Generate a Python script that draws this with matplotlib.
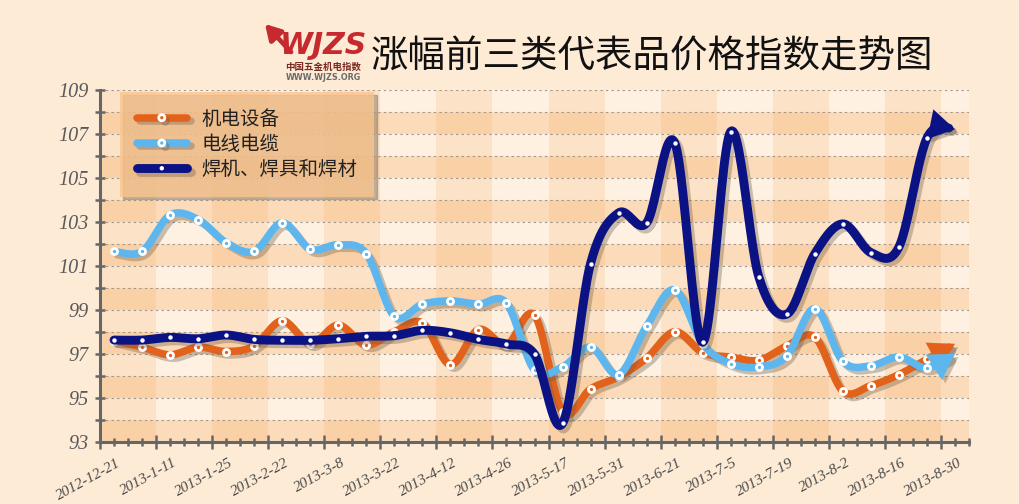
import numpy as np
import matplotlib
matplotlib.use("Agg")
import matplotlib.pyplot as plt
import matplotlib.patheffects as pe
import matplotlib.transforms as mtransforms
from matplotlib.lines import Line2D
from matplotlib.patches import FancyArrowPatch

cjk = ['Noto Sans CJK SC', 'DejaVu Sans']

# --- data ---
tick_labels = ['2012-12-21', '2013-1-11', '2013-1-25', '2013-2-22', '2013-3-8', '2013-3-22',
               '2013-4-12', '2013-4-26', '2013-5-17', '2013-5-31', '2013-6-21', '2013-7-5',
               '2013-7-19', '2013-8-2', '2013-8-16', '2013-8-30']
names = ['机电设备', '电线电缆', '焊机、焊具和焊材']
jidian = [97.6, 97.3, 96.95, 97.3, 97.1, 97.35, 98.5, 97.45, 98.3, 97.4,
          98.0, 98.4, 96.5, 98.1, 97.4, 98.75, 94.35, 95.4, 95.95, 96.8,
          98.0, 97.05, 96.85, 96.7, 97.35, 97.75, 95.3, 95.55, 96.05, 96.75, 97.45]
dianxian = [101.65, 101.65, 103.3, 103.1, 102.05, 101.65, 102.95, 101.75, 101.95, 101.55,
            98.7, 99.25, 99.4, 99.25, 99.3, 96.25, 96.4, 97.3, 96.05, 98.25,
            99.9, 97.45, 96.55, 96.4, 96.9, 99.05, 96.65, 96.45, 96.85, 96.35, 97.0]
hanji = [97.62, 97.62, 97.74, 97.68, 97.85, 97.65, 97.61, 97.61, 97.68, 97.79,
         97.82, 98.06, 97.95, 97.65, 97.44, 96.97, 93.83, 101.1, 103.4, 102.95,
         106.6, 97.52, 107.1, 100.5, 98.8, 101.55, 102.9, 101.6, 101.85, 106.8, 107.2]

colors = ['#E2621B', '#5DB6EE', '#0B1283']


def smooth(x, y, n=24):
    # catmull-rom through the points, like the original chart's curved lines
    px = np.r_[x[0], x, x[-1]]
    py = np.r_[y[0], y, y[-1]]
    t = np.linspace(0, 1, n, endpoint=False)[:, None]
    xs, ys = [], []
    for i in range(len(x) - 1):
        for p, out in ((px, xs), (py, ys)):
            p0, p1, p2, p3 = p[i], p[i + 1], p[i + 2], p[i + 3]
            out.append((0.5 * (2 * p1 + (-p0 + p2) * t + (2 * p0 - 5 * p1 + 4 * p2 - p3) * t ** 2
                               + (-p0 + 3 * p1 - 3 * p2 + p3) * t ** 3)).ravel())
    return np.concatenate(xs + [[x[-1]]]), np.concatenate(ys + [[y[-1]]])


fig = plt.figure(figsize=(10.2, 5.04), dpi=100, facecolor='#FDEBD6')
ax = fig.add_axes([100 / 1020, 1 - 441.7 / 504, 869 / 1020, 352 / 504])
ax.set_facecolor('#FEF1E1')
ax.set_xlim(-0.5, 30.5)
ax.set_ylim(93, 109)

# checkered background
for v in range(93, 109, 2):
    ax.axhspan(v, v + 1, color='#F7AE66', alpha=0.32, lw=0, zorder=0.1)
for c in np.arange(-0.5, 30.5, 4):
    ax.axvspan(c, c + 2, color='#F7AE66', alpha=0.22, lw=0, zorder=0.1)

ax.set_axisbelow(True)
ax.grid(axis='y', which='both', linestyle=(0, (2, 3)), color='#9c9690', lw=0.8)

shadow = [pe.SimpleLineShadow(offset=(2.5, -2.5), shadow_color='#6b5a48', alpha=0.35), pe.Normal()]
slots = np.arange(len(jidian))
handles = []
for i, (vals, col) in enumerate(zip([jidian, dianxian, hanji], colors)):
    vals = np.array(vals)
    lw = 6.4 if i == 2 else 5.4
    sx, sy = smooth(slots.astype(float), vals)
    cut = len(sx) - 8
    ax.plot(sx[:cut + 1], sy[:cut + 1], color=col, lw=lw, solid_capstyle='round',
            solid_joinstyle='round', path_effects=shadow, zorder=3 + i)
    arr = FancyArrowPatch((sx[cut - 2], sy[cut - 2]), (sx[-1], sy[-1]),
                          arrowstyle='-|>,head_length=1.0,head_width=0.6', mutation_scale=18,
                          color=col, lw=0.1, shrinkA=0, shrinkB=0, zorder=3 + i,
                          path_effects=[pe.SimplePatchShadow(offset=(2.5, -2.5), shadow_rgbFace='#6b5a48',
                                                             alpha=0.35), pe.Normal()])
    ax.add_patch(arr)
    if i == 2:
        ax.plot(slots[:-1], vals[:-1], 'o', ms=3.2, mfc='white', mew=0, zorder=3.5 + i)
        h = Line2D([], [], color=col, lw=lw, marker='o', ms=3.2, mfc='white', mew=0,
                   solid_capstyle='round', path_effects=shadow)
    else:
        ax.plot(slots[:-1], vals[:-1], 'o', ms=4.4, mfc=col, mec='white', mew=2.0, zorder=3.5 + i)
        h = Line2D([], [], color=col, lw=lw, marker='o', ms=4.4, mfc=col, mec='white', mew=2.0,
                   solid_capstyle='round', path_effects=shadow)
    handles.append(h)

# axes styling
for s in ['top', 'right']:
    ax.spines[s].set_visible(False)
for s in ['left', 'bottom']:
    ax.spines[s].set_color('#666666')
    ax.spines[s].set_linewidth(2.2)

ax.set_yticks(np.arange(93, 110, 2))
ax.set_yticks(np.arange(94, 109, 2), minor=True)
ax.tick_params(axis='y', which='both', direction='inout', length=7, width=1.8, color='#666666',
               labelsize=14.5, labelcolor='#5a5a5a', pad=5)
for t in ax.get_yticklabels():
    t.set_family('Liberation Serif')
    t.set_style('italic')

ax.set_xticks(np.arange(-0.5, 30.6, 2))
ax.set_xticks(np.arange(-0.5, 30.6, 0.5), minor=True)
ax.tick_params(axis='x', which='major', direction='inout', length=10, width=1.8, color='#666666',
               labelbottom=False)
ax.tick_params(axis='x', which='minor', direction='inout', length=6, width=1.8, color='#666666')

# date labels: every second week, right end at the week's position
lab_tr = mtransforms.offset_copy(ax.get_xaxis_transform(), fig=fig, x=2, y=-10.5, units='points')
for pos, lab in zip(np.arange(0, len(jidian), 2), tick_labels):
    ax.text(pos, 0, lab, transform=lab_tr, ha='right', va='top', rotation=29,
            rotation_mode='anchor', fontsize=11, family='Liberation Serif', style='italic',
            color='#4a4a4a', clip_on=False)

leg = ax.legend(handles, names, loc='upper left', bbox_to_anchor=(0.023, 0.9935), borderaxespad=0,
                prop={'family': cjk, 'size': 14}, handlelength=2.6, handletextpad=0.75,
                labelspacing=0.22, borderpad=0.85, numpoints=1, fancybox=False,
                facecolor='#FAC48E', framealpha=0.8, edgecolor='none',
                shadow={'color': '#8a7a6a', 'alpha': 0.5})
for t in leg.get_texts():
    t.set_color('#222222')
leg.set_zorder(10)

# logo and title
ax.annotate('', xy=(265 / 1020, 1 - 24 / 504), xytext=(291 / 1020, 1 - 52 / 504),
            xycoords='figure fraction', textcoords='figure fraction',
            arrowprops=dict(arrowstyle='-|>,head_length=0.6,head_width=0.35', color='#C62A2F',
                            lw=3.4, mutation_scale=15, shrinkA=0, shrinkB=0))
fig.text(323 / 1020, 1 - 46 / 504, 'WJZS', ha='center', va='center', fontsize=21.5, color='#C62A2F',
         weight='bold', style='italic', family='DejaVu Sans')
fig.text(323 / 1020, 1 - 67 / 504, '中国五金机电指数', ha='center', va='center', fontsize=6.8,
         color='#7a2a22', weight='bold', family=cjk)
fig.text(323 / 1020, 1 - 77 / 504, 'WWW.WJZS.ORG', ha='center', va='center', fontsize=5.8,
         color='#6a6a6a', weight='bold', family='DejaVu Sans')
fig.text(652 / 1020, 1 - 57 / 504, '涨幅前三类代表品价格指数走势图', ha='center', va='center',
         fontsize=27, color='#111111', family=cjk)

fig.savefig('out.png', dpi=100, facecolor=fig.get_facecolor())
